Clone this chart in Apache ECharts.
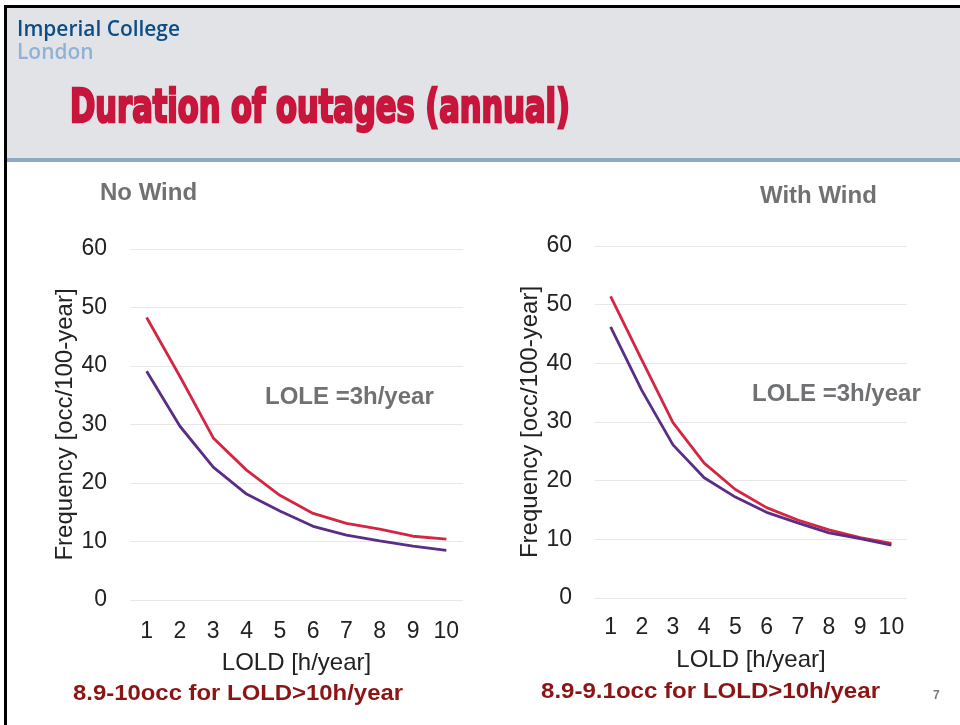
<!DOCTYPE html>
<html>
<head>
<meta charset="utf-8">
<script src="https://cdn.jsdelivr.net/npm/echarts@6/dist/echarts.min.js"></script>
<style>
  html, body { margin: 0; padding: 0; background: #fff; }
  #slide { width: 960px; height: 725px; }
</style>
</head>
<body>
<div id="slide"></div>
<script>
// LOLD categories, h/year
var lold = ['1', '2', '3', '4', '5', '6', '7', '8', '9', '10'];

// No Wind
var noWindRed = [48.3, 38.2, 27.7, 22.2, 17.9, 14.8, 13.1, 12.1, 10.9, 10.4];
var noWindPurple = [39.1, 29.7, 22.7, 18.1, 15.2, 12.6, 11.1, 10.1, 9.2, 8.5];

// With Wind
var windRed = [51.4, 40.6, 29.9, 23.0, 18.5, 15.4, 13.3, 11.6, 10.3, 9.3];
var windPurple = [46.2, 35.4, 26.1, 20.5, 17.2, 14.6, 12.8, 11.1, 10.1, 9.0];

var RED = '#d42642'
var PURPLE = '#5a2d86'
var GREY_TXT = '#707173'
var FOOT = '#8c1414'
var FONT = '"Liberation Sans", Arial, sans-serif'

// measure a string so text can be squeezed/stretched to the slide's width
function textWidth(str, font) {
    var c = document.createElement('canvas').getContext('2d')
    c.font = font
    return c.measureText(str).width
}

var titleText = 'Duration of outages (annual)'
var titleFont = 'bold 46px "DejaVu Sans Condensed"'
var titleScale = 500 / textWidth(titleText, titleFont)

var icFont = '600 21px "Open Sans"'
var icScale = 163 / textWidth('Imperial College', icFont)

var footFont = 'bold 22px ' + FONT
var foot1 = '8.9-10occ for LOLD>10h/year'
var foot2 = '8.9-9.1occ for LOLD>10h/year'

function axisPair(gridIndex) {
    return {
        x: {
            type: 'category',
            gridIndex: gridIndex,
            data: lold,
            boundaryGap: true,
            axisLine: { show: false },
            axisTick: { show: false },
            axisLabel: {
                interval: 0,
                color: '#222', fontSize: 23, fontFamily: FONT,
                margin: gridIndex === 0 ? 20 : 18
            },
            name: 'LOLD [h/year]',
            nameLocation: 'middle',
            nameGap: gridIndex === 0 ? 51 : 50,
            nameTextStyle: { color: '#222', fontSize: 24, fontFamily: FONT }
        },
        y: {
            type: 'value',
            gridIndex: gridIndex,
            min: 0,
            max: 60,
            interval: 10,
            axisLine: { show: false },
            axisTick: { show: false },
            axisLabel: { color: '#222', fontSize: 23, fontFamily: FONT, margin: 23 },
            splitLine: { lineStyle: { color: '#e8e8e8', width: 1 } },
            name: 'Frequency [occ/100-year]',
            nameLocation: 'middle',
            nameRotate: 90,
            nameGap: gridIndex === 0 ? 53 : 51,
            nameTextStyle: { color: '#222', fontSize: 24, fontFamily: FONT }
        }
    }
}

var a0 = axisPair(0)
var a1 = axisPair(1)

function lineSeries(idx, values, color) {
    return {
        type: 'line',
        xAxisIndex: idx,
        yAxisIndex: idx,
        data: values,
        symbol: 'none',
        lineStyle: { color: color, width: 2.8 },
        animation: false
    }
}

function label(x, y, text, font, color, sx) {
    return {
        type: 'text', x: x, y: y, scaleX: sx || 1,
        style: { text: text, font: font, fill: color, textVerticalAlign: 'middle' }
    }
}

var chart = echarts.init(document.getElementById('slide'))
chart.setOption({
    backgroundColor: '#fff',
    animation: false,
    grid: [
        { left: 130, top: 249, width: 333, height: 351 },
        { left: 595, top: 246, width: 312, height: 352 }
    ],
    xAxis: [a0.x, a1.x],
    yAxis: [a0.y, a1.y],
    series: [
        lineSeries(0, noWindRed, RED),
        lineSeries(0, noWindPurple, PURPLE),
        lineSeries(1, windRed, RED),
        lineSeries(1, windPurple, PURPLE)
    ],
    graphic: [
        // frame + header band
        { type: 'rect', silent: true, z: -1, shape: { x: 4, y: 5, width: 956, height: 3 }, style: { fill: '#000' } },
        { type: 'rect', silent: true, z: -1, shape: { x: 4, y: 5, width: 3, height: 720 }, style: { fill: '#000' } },
        { type: 'rect', silent: true, z: -1, shape: { x: 7, y: 8, width: 953, height: 150 }, style: { fill: '#e1e3e7' } },
        { type: 'rect', silent: true, z: -1, shape: { x: 7, y: 158, width: 953, height: 4 }, style: { fill: '#8ba9c7' } },
        label(17, 30, 'Imperial College', icFont, '#0c4d86', icScale),
        label(17, 53, 'London', icFont, '#8fb2d6', icScale),
        {
            type: 'text', x: 70, y: 110, scaleX: titleScale,
            style: {
                text: titleText, font: titleFont, fill: '#c8153b',
                stroke: '#c8153b', lineWidth: 2.5, textVerticalAlign: 'middle'
            }
        },
        // panel captions
        label(100, 193, 'No Wind', 'bold 24px ' + FONT, GREY_TXT),
        label(760, 196, 'With Wind', 'bold 24px ' + FONT, GREY_TXT),
        label(265, 397, 'LOLE =3h/year', 'bold 24px ' + FONT, GREY_TXT),
        label(752, 394, 'LOLE =3h/year', 'bold 24px ' + FONT, GREY_TXT),
        // footnotes
        label(73, 694, foot1, footFont, FOOT, 330 / textWidth(foot1, footFont)),
        label(541, 692, foot2, footFont, FOOT, 339 / textWidth(foot2, footFont)),
        label(933, 696, '7', 'bold 12px ' + FONT, '#7a7a7a')
    ]
})
</script>
</body>
</html>
